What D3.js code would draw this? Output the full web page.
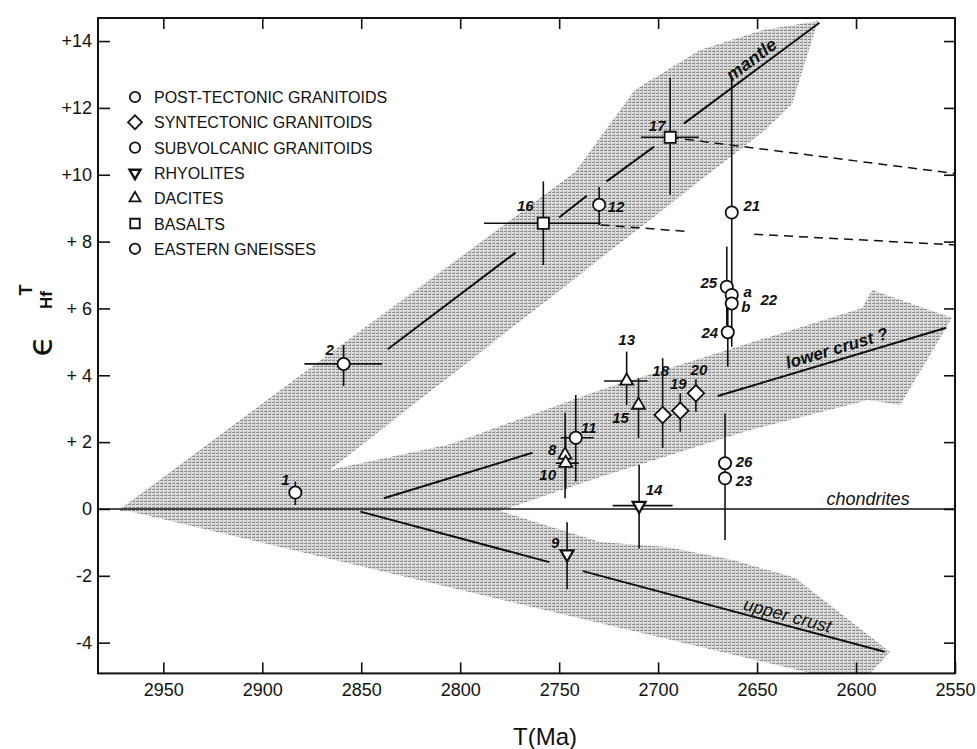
<!DOCTYPE html>
<html>
<head>
<meta charset="utf-8">
<script src="https://cdn.jsdelivr.net/npm/d3@7"></script>
<style>
  body { margin: 0; background: #fff; }
  text { font-family: "Liberation Sans", Arial, Helvetica, sans-serif; fill: #111; }
</style>
</head>
<body>
<svg id="chart" width="977" height="749"></svg>
<script>
// ---- data (T in Ma, epsilon Hf) ----
var xTicks = [2950, 2900, 2850, 2800, 2750, 2700, 2650, 2600, 2550];
var yTicks = [-4, -2, 0, 2, 4, 6, 8, 10, 12, 14];

var legendLabels = ["POST-TECTONIC GRANITOIDS", "SYNTECTONIC GRANITOIDS", "SUBVOLCANIC GRANITOIDS",
                    "RHYOLITES", "DACITES", "BASALTS", "EASTERN GNEISSES"];
var legendShapes = ["circle", "diamond", "circle", "triangleDown", "triangle", "square", "circle"];

// [label, T, eps, epsLow, epsHigh, Told, Tyoung]
var postTectonic = [
  ["21", 2662.8, 8.87, 4.85, 12.9],
  ["25", 2665.3, 6.65, 5.5, 7.85],
  ["a", 2662.8, 6.40],
  ["b", 2662.8, 6.15],
  ["24", 2664.8, 5.29, 4.26, 6.0],
  ["26", 2666.2, 1.37, -0.93, 2.86],
  ["23", 2666.2, 0.92]
];
var syntectonic = [
  ["18", 2697.7, 2.81, 1.82, 4.51],
  ["19", 2688.8, 2.94, 2.31, 3.46],
  ["20", 2680.9, 3.46, 2.91, 3.88]
];
var subvolcanic = [
  ["11", 2741.6, 2.13, 0.82, 3.41, 2749.2, 2732.6],
  ["12", 2729.8, 9.10, 8.5, 9.63]
];
var rhyolites = [
  ["9", 2746.0, -1.35, -2.4, -0.4],
  ["14", 2709.6, 0.10, -1.18, 1.32, 2723, 2692.7]
];
var dacites = [
  ["8", 2747.0, 1.62, 0.32, 2.88],
  ["10", 2746.7, 1.37, 0.6, 2.2, 2751.7, 2740.1],
  ["13", 2715.9, 3.83, 3.11, 4.71, 2727.3, 2705.3],
  ["15", 2709.9, 3.11, 2.12, 3.91]
];
var basalts = [
  ["16", 2758.0, 8.55, 7.3, 9.8, 2788, 2729],
  ["17", 2693.9, 11.12, 9.4, 12.9, 2708.7, 2679.4]
];
var easternGneisses = [
  ["1", 2883.3, 0.49, 0.12, 0.82],
  ["2", 2858.9, 4.34, 3.68, 4.9, 2878.7, 2839.4]
];

// shaded evolution arrows (outline vertices, T / eps)
var mantleBand = [[2971.9, 0], [2742.0, 10.08], [2711.7, 12.54], [2678.8, 13.73], [2647.0, 14.33],
  [2619.2, 14.60], [2626.3, 13.26], [2632.3, 12.12], [2646.0, 11.34], [2865.8, 1.17]];
var lowerCrustBand = [[2971.9, 0], [2865.8, 1.17], [2805.1, 1.94], [2729.3, 3.56], [2653.5, 4.97],
  [2596.9, 6.01], [2591.9, 6.55], [2551.5, 5.72], [2577.7, 3.11], [2593.9, 3.26], [2653.5, 2.36],
  [2729.3, 0.96], [2779.9, -0.06], [2971.9, -0.06]];
var upperCrustBand = [[2971.9, 0], [2779.9, -0.06], [2729.3, -0.99], [2695.5, -1.14], [2662.1, -1.53],
  [2630.8, -2.06], [2582.8, -4.28], [2605.5, -5.72], [2623.2, -4.91]];

// trend lines (solid pieces)
var mantleLine = [[[2836.6, 4.78], [2772, 7.67]], [[2750, 8.72], [2736, 9.37]],
  [[2726, 9.80], [2702, 10.84]], [[2687, 11.53], [2618.5, 14.55]]];
var lowerCrustLine = [[[2838.6, 0.32], [2763.5, 1.68]], [[2669.9, 3.38], [2554.4, 5.42]]];
var upperCrustLine = [[[2850.4, -0.08], [2755, -1.59]], [[2738, -1.86], [2585.6, -4.27]]];
var dashedLines = [[[2694, 11.12], [2550.4, 10.04]], [[2729, 8.5], [2685, 8.3]], [[2651.5, 8.22], [2550, 7.9]]];

// label offsets in px
var labelOffset = {
  "1": [-10, -13], "2": [-14, -14], "8": [-13, -5], "9": [-12, -12], "10": [-18, 11],
  "11": [13, -10], "12": [17, 2], "13": [0, -41], "14": [15, -16], "15": [-18, 12],
  "16": [-18, -18], "17": [-13, -12], "18": [-2, -45], "19": [-2, -27], "20": [3, -24],
  "21": [20, -7], "a": [16, -4], "b": [14, 3], "23": [19, 2], "24": [-18, 0],
  "25": [-18, -4], "26": [19, -2]
};

// ---- chart ----
var svg = d3.select("#chart");
var x = d3.scaleLinear().domain([2983, 2550]).range([98, 955]);
var y = d3.scaleLinear().domain([-4.92, 14.69]).range([673.4, 18]);

var defs = svg.append("defs");
defs.append("clipPath").attr("id", "plotClip").append("rect")
  .attr("x", x(2983)).attr("y", y(14.69)).attr("width", x(2550) - x(2983)).attr("height", y(-4.92) - y(14.69));
var pat = defs.append("pattern").attr("id", "stipple").attr("width", 4).attr("height", 3)
  .attr("patternUnits", "userSpaceOnUse");
pat.append("rect").attr("width", 4).attr("height", 3).attr("fill", "#dcdcdc");
pat.append("rect").attr("width", 3).attr("height", 1).attr("fill", "#8c8c8c");
pat.append("rect").attr("x", 2).attr("y", 2).attr("width", 1).attr("height", 1).attr("fill", "#a8a8a8");

var line = d3.line().x(function(d) { return x(d[0]); }).y(function(d) { return y(d[1]); });

// shaded arrows
svg.append("g").attr("clip-path", "url(#plotClip)")
  .selectAll("path").data([mantleBand, lowerCrustBand, upperCrustBand])
  .enter().append("path")
  .attr("d", function(d) { return line(d) + "Z"; })
  .attr("fill", "url(#stipple)");

// chondrites reference
svg.append("line")
  .attr("x1", x(2983)).attr("x2", x(2550)).attr("y1", y(0)).attr("y2", y(0))
  .attr("stroke", "#111").attr("stroke-width", 1.6);

// trend lines
svg.append("g").selectAll("path").data(mantleLine.concat(lowerCrustLine, upperCrustLine))
  .enter().append("path")
  .attr("d", line).attr("stroke", "#111").attr("stroke-width", 2).attr("fill", "none");

svg.append("g").selectAll("path").data(dashedLines)
  .enter().append("path")
  .attr("d", line).attr("stroke", "#111").attr("stroke-width", 1.5)
  .attr("stroke-dasharray", "9,6").attr("fill", "none");

// curve labels
function lineLabel(seg, t, txt, off, size, weight) {
  var p0 = seg[0], p1 = seg[1];
  var ang = Math.atan2(y(p1[1]) - y(p0[1]), x(p1[0]) - x(p0[0])) * 180 / Math.PI;
  var e = p0[1] + (p1[1] - p0[1]) * (t - p0[0]) / (p1[0] - p0[0]);
  svg.append("text")
    .attr("transform", "translate(" + x(t) + "," + y(e) + ") rotate(" + ang + ")")
    .attr("y", off).attr("text-anchor", "middle")
    .style("font-style", "italic").style("font-weight", weight).style("font-size", size + "px")
    .text(txt);
}
lineLabel(mantleLine[3], 2649.5, "mantle", -5, 18, "bold");
lineLabel(lowerCrustLine[1], 2608, "lower crust ?", -6, 17, "bold");
lineLabel(upperCrustLine[1], 2635.9, "upper crust", -4, 18, "normal");
lineLabel([[2983, 0], [2550, 0]], 2593.9, "chondrites", -4, 18, "normal");

// symbols
function symbolPath(shape, big) {
  var s = big ? 1 : 0.72;
  switch (shape) {
    case "circle": return d3.symbol(d3.symbolCircle, 118 * s)();
    case "diamond": return d3.symbol(d3.symbolSquare, 135 * s)();
    case "square": return d3.symbol(d3.symbolSquare, 125 * s)();
    case "triangle": return d3.symbol(d3.symbolTriangle, 72 * s)();
    case "triangleDown": return d3.symbol(d3.symbolTriangle, 72 * s)();
  }
}
function symbolRot(shape) {
  return shape == "diamond" ? 45 : (shape == "triangleDown" ? 180 : 0);
}

var groups = [
  [postTectonic, "circle"], [syntectonic, "diamond"], [subvolcanic, "circle"],
  [rhyolites, "triangleDown"], [dacites, "triangle"], [basalts, "square"], [easternGneisses, "circle"]
];

var bars = svg.append("g").attr("stroke", "#111").attr("stroke-width", 1.6);
var marks = svg.append("g");
var labels = svg.append("g");

groups.forEach(function(gr) {
  var rows = gr[0], shape = gr[1];
  rows.forEach(function(r) {
    if (r[3] != null) {
      bars.append("line").attr("x1", x(r[1])).attr("x2", x(r[1])).attr("y1", y(r[3])).attr("y2", y(r[4]));
    }
    if (r[5] != null) {
      bars.append("line").attr("x1", x(r[5])).attr("x2", x(r[6])).attr("y1", y(r[2])).attr("y2", y(r[2]));
    }
  });
  marks.selectAll(null).data(rows).enter().append("path")
    .attr("d", symbolPath(shape, true))
    .attr("transform", function(d) { return "translate(" + x(d[1]) + "," + y(d[2]) + ") rotate(" + symbolRot(shape) + ")"; })
    .attr("fill", "#fff").attr("stroke", "#111")
    .attr("stroke-width", shape == "triangleDown" ? 2.2 : 1.8);
  labels.selectAll(null).data(rows).enter().append("text")
    .attr("x", function(d) { return x(d[1]) + labelOffset[d[0]][0]; })
    .attr("y", function(d) { return y(d[2]) + labelOffset[d[0]][1]; })
    .attr("text-anchor", "middle").attr("dominant-baseline", "central")
    .style("font-style", "italic").style("font-weight", "bold").style("font-size", "15px")
    .text(function(d) { return d[0]; });
});
// sample 22 carries two fractions a and b
labels.append("text")
  .attr("x", x(2662.8) + 37).attr("y", y(6.27))
  .attr("text-anchor", "middle").attr("dominant-baseline", "central")
  .style("font-style", "italic").style("font-weight", "bold").style("font-size", "15px")
  .text("22");

// axes (ticks point inwards)
var fmtY = function(v) { return v > 0 ? (v < 10 ? "+ " + v : "+" + v) : (v < 0 ? "-" + (-v) : "0"); };
function styleAxis(g) {
  g.select(".domain").remove();
  g.selectAll(".tick line").attr("stroke", "#111").attr("stroke-width", 1.6);
  g.attr("font-family", "'Liberation Sans', Arial, sans-serif").attr("font-size", 18);
  g.selectAll(".tick text").attr("fill", "#111");
}
svg.append("g").attr("transform", "translate(0," + y(-4.92) + ")")
  .call(d3.axisBottom(x).tickValues(xTicks).tickSize(-11).tickSizeOuter(0).tickPadding(10).tickFormat(d3.format("d")))
  .call(styleAxis);
svg.append("g").attr("transform", "translate(0," + y(14.69) + ")")
  .call(d3.axisTop(x).tickValues(xTicks.slice(0, -1)).tickSize(-11).tickSizeOuter(0).tickFormat(""))
  .call(styleAxis);
svg.append("g").attr("transform", "translate(" + x(2983) + ",0)")
  .call(d3.axisLeft(y).tickValues(yTicks).tickSize(-12).tickSizeOuter(0).tickPadding(6).tickFormat(fmtY))
  .call(styleAxis);
svg.append("g").attr("transform", "translate(" + x(2550) + ",0)")
  .call(d3.axisRight(y).tickValues(yTicks).tickSize(-11).tickSizeOuter(0).tickFormat(""))
  .call(styleAxis);

// frame
svg.append("rect")
  .attr("x", x(2983)).attr("y", y(14.69)).attr("width", x(2550) - x(2983)).attr("height", y(-4.92) - y(14.69))
  .attr("fill", "none").attr("stroke", "#111").attr("stroke-width", 2);

// legend
var legend = svg.append("g").attr("transform", "translate(135,97)");
legendLabels.forEach(function(lab, i) {
  var row = legend.append("g").attr("transform", "translate(0," + (i * 25.3) + ")");
  row.append("path").attr("d", symbolPath(legendShapes[i], false))
    .attr("transform", "rotate(" + symbolRot(legendShapes[i]) + ")")
    .attr("fill", "#fff").attr("stroke", "#111")
    .attr("stroke-width", legendShapes[i] == "triangleDown" ? 2.4 : 1.8);
  row.append("text").attr("x", 19).attr("y", 6)
    .style("font-size", "16px").text(lab);
});

// axis titles
svg.append("text").attr("x", 545).attr("y", 745).attr("text-anchor", "middle")
  .style("font-size", "24px").text("T(Ma)");

var ylab = svg.append("g").attr("transform", "translate(40,320) rotate(-90)");
ylab.append("text").attr("x", -26).attr("y", 0).attr("text-anchor", "middle")
  .attr("dominant-baseline", "central").style("font-family", "'DejaVu Sans', sans-serif")
  .style("font-size", "34px").text("\u03f5");
ylab.append("text").attr("x", 30).attr("y", -14).attr("text-anchor", "middle")
  .attr("dominant-baseline", "central").style("font-size", "18px").style("font-weight", "bold").text("T");
ylab.append("text").attr("x", 20).attr("y", 6).attr("text-anchor", "middle")
  .attr("dominant-baseline", "central").style("font-size", "17px").style("font-weight", "bold").text("Hf");
</script>
</body>
</html>
